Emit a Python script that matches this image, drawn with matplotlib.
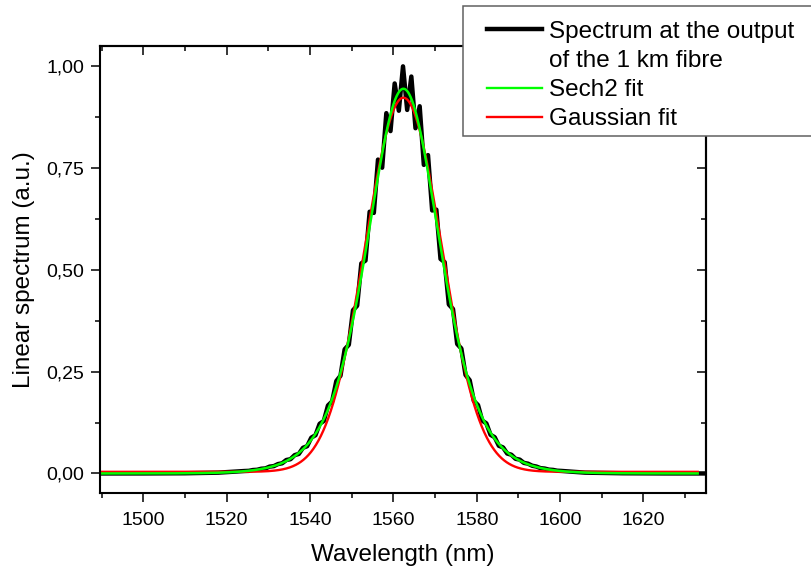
import numpy as np
import matplotlib

matplotlib.use("Agg")
import matplotlib.pyplot as plt
from matplotlib.lines import Line2D
from matplotlib.patches import Rectangle
from matplotlib.ticker import FuncFormatter, MultipleLocator

plt.rcParams["font.family"] = ["Liberation Sans", "DejaVu Sans"]

tail_left_nm = [1489.6, 1500.0, 1510.0, 1518.0]
tail_left_val = [0.0, 0.0001, 0.0005, 0.002]
core_nm = np.arange(1524.3, 1600.4, 1.0)
core_val = [
    0.0060, 0.0064, 0.0084, 0.0090, 0.0116, 0.0124, 0.0168, 0.018,
    0.023, 0.025, 0.033, 0.035, 0.045, 0.048, 0.063, 0.067,
    0.088, 0.094, 0.122, 0.129, 0.167, 0.177, 0.227, 0.240,
    0.305, 0.316, 0.401, 0.412, 0.516, 0.523, 0.643, 0.640,
    0.771, 0.751, 0.885, 0.841, 0.958, 0.891,
    1.000,
    0.893, 0.975, 0.848, 0.902, 0.758, 0.782, 0.646,
    0.648, 0.527, 0.519, 0.415, 0.404, 0.318, 0.307, 0.242,
    0.229, 0.178, 0.168, 0.130, 0.123, 0.095, 0.089, 0.068,
    0.064, 0.049, 0.046, 0.036, 0.034, 0.026, 0.024, 0.019,
    0.017, 0.013, 0.012, 0.0094, 0.0087, 0.0067, 0.0062,
]
tail_right_nm = [1606.0, 1615.0, 1625.0, 1635.0]
tail_right_val = [0.002, 0.0005, 0.0001, 0.0]

spectrum_nm = np.concatenate([tail_left_nm, core_nm, tail_right_nm])
spectrum_val = np.concatenate([tail_left_val, core_val, tail_right_val])

# fit parameters
sech2_amp, sech2_center, sech2_width = 0.945, 1562.4, 11.7
gauss_amp, gauss_center, gauss_sigma, gauss_offset = 0.919, 1562.4, 9.15, 0.004

fit_nm = np.linspace(1489.6, 1633.0, 1200)
sech2_fit = sech2_amp / np.cosh((fit_nm - sech2_center) / sech2_width) ** 2
gauss_fit = gauss_offset + gauss_amp * np.exp(-((fit_nm - gauss_center) ** 2) / (2 * gauss_sigma ** 2))

fig = plt.figure(figsize=(8.12, 5.69), dpi=100)
ax = fig.add_axes([100 / 812, 1 - 493 / 569, 606 / 812, 447 / 569])

ax.plot(spectrum_nm, spectrum_val, color="black", lw=3.2, solid_joinstyle="round")
ax.plot(fit_nm, gauss_fit, color="#ff0000", lw=1.7)
ax.plot(fit_nm, sech2_fit, color="#00ff00", lw=1.8)

ax.set_xlim(1489.6, 1635.0)
ax.set_ylim(-0.048, 1.05)

ax.xaxis.set_major_locator(MultipleLocator(20))
ax.xaxis.set_minor_locator(MultipleLocator(10))
ax.yaxis.set_major_locator(MultipleLocator(0.25))
ax.yaxis.set_minor_locator(MultipleLocator(0.125))
ax.yaxis.set_major_formatter(FuncFormatter(lambda v, _: f"{v:.2f}".replace(".", ",")))

ax.tick_params(which="both", direction="out", width=1.1, labelsize=14)
ax.tick_params(axis="x", pad=7)
ax.tick_params(axis="y", pad=5)
ax.tick_params(which="major", length=6.5)
ax.tick_params(which="minor", length=3.8)
for spine in ax.spines.values():
    spine.set_linewidth(1.5)

top = ax.secondary_xaxis("top")
top.xaxis.set_major_locator(MultipleLocator(20))
top.xaxis.set_minor_locator(MultipleLocator(10))
top.tick_params(which="both", direction="in", width=1.1, labeltop=False)
top.tick_params(which="major", length=6.5)
top.tick_params(which="minor", length=3.8)
top.spines["top"].set_linewidth(1.5)

right = ax.secondary_yaxis("right")
right.yaxis.set_major_locator(MultipleLocator(0.25))
right.yaxis.set_minor_locator(MultipleLocator(0.125))
right.tick_params(which="both", direction="in", width=1.1, labelright=False)
right.tick_params(which="major", length=6.5)
right.tick_params(which="minor", length=3.8)
right.spines["right"].set_linewidth(1.5)

ax.set_xlabel("Wavelength (nm)", fontsize=17.5, labelpad=11)
ax.set_ylabel("Linear spectrum (a.u.)", fontsize=17.5, labelpad=8)

# legend frame sticks out past the right edge of the figure
fig.patches.append(
    Rectangle((463 / 812, 1 - 136 / 569), 0.6, 130 / 569, transform=fig.transFigure,
              facecolor="white", edgecolor="#606060", lw=1.1, zorder=3)
)
handles = [
    Line2D([], [], color="black", lw=3.2),
    Line2D([], [], color="none"),
    Line2D([], [], color="#00ff00", lw=1.7),
    Line2D([], [], color="#ff0000", lw=1.7),
]
labels = ["Spectrum at the output", "of the 1 km fibre", "Sech2 fit", "Gaussian fit"]
leg = fig.legend(handles, labels, loc="upper left", bbox_to_anchor=(487 / 812, 1 - 20.5 / 569),
                 frameon=False, fontsize=17.5, handlelength=2.25, handletextpad=0.3,
                 labelspacing=0.30, borderpad=0, borderaxespad=0)
leg.set_zorder(5)

fig.savefig("out.png", dpi=100)
